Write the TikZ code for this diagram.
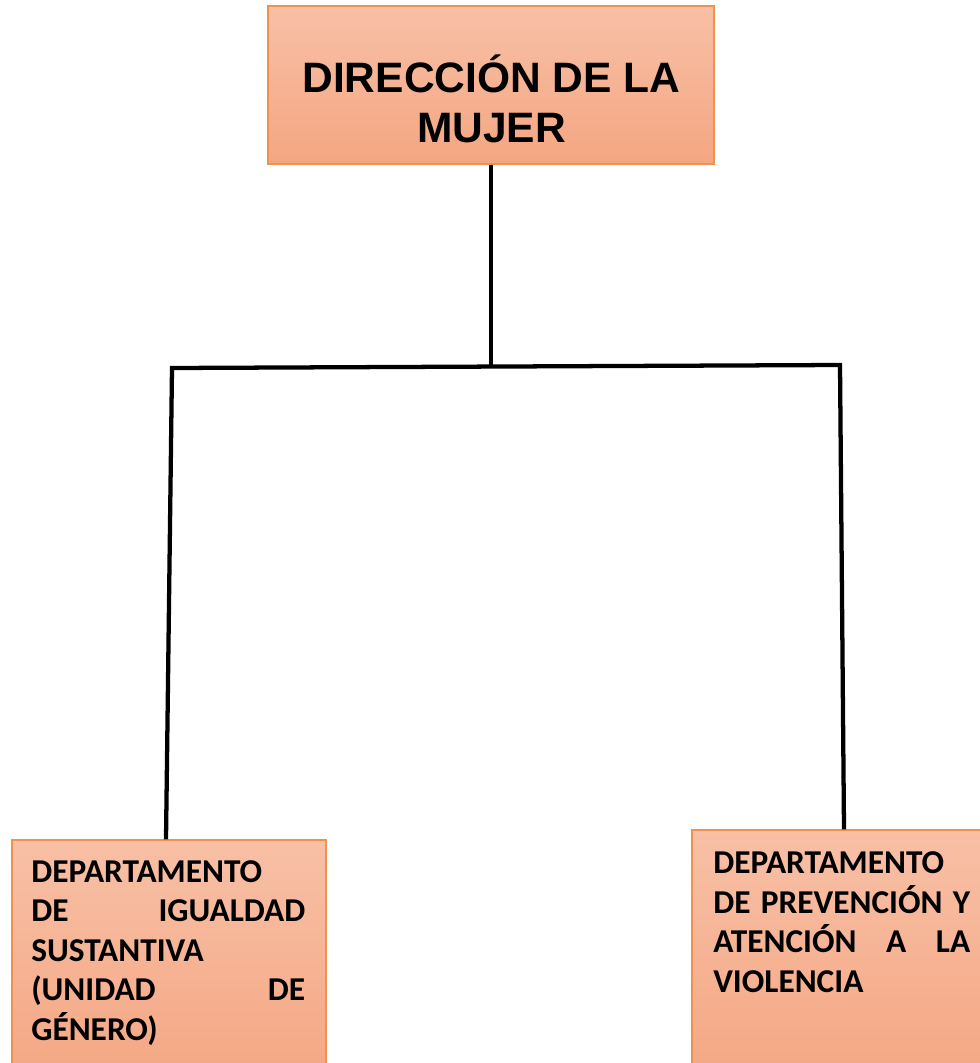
\documentclass[tikz,border=0pt]{standalone}
\usepackage{fontspec}
\setmainfont{Liberation Sans}
\newfontfamily\calibri{Carlito}
\usepackage{tikz}
\usetikzlibrary{positioning,fit,calc}
\usepackage{xcolor}
\definecolor{boxtop}{HTML}{F8C0A6}
\definecolor{boxbot}{HTML}{F4A682}
\definecolor{boxline}{HTML}{F0914F}
\tikzset{
    orgbox/.style={
        draw=boxline,
        line width=1.1pt,
        top color=boxtop,
        bottom color=boxbot,
        inner sep=0pt
    },
    headtxt/.style={
        align=center,
        inner sep=0pt,
        font=\bfseries\fontsize{31.9}{37.5}\selectfont
    },
    deptxt/.style={
        align=left,
        inner sep=0pt,
        font=\calibri\bfseries\fontsize{25}{29.6}\selectfont
    },
    link/.style={
        draw,
        line width=3.2pt,
        line join=miter
    }
}

\begin{document}
\begin{tikzpicture}[x=0.75pt, y=-0.75pt]
    \path[use as bounding box, clip] (0,0) rectangle (980,1063);

    % Boxes
    \node[orgbox, fit={(268,6) (714,164)}] (dir) {};
    \node[orgbox, fit={(12,840) (326,1090)}] (igual) {};
    \node[orgbox, fit={(692,830) (996,1090)}] (prev) {};

    % Texts
    \node[headtxt, anchor=south] (dirtxt) at (491.5,143) {DIRECCIÓN DE LA\\MUJER};
    \node[deptxt, text width=205.5pt, anchor=north west] (igualtxt) at (31,860) {%
        DEPARTAMENTO\\
        \makebox[\hsize]{DE\hfill IGUALDAD}\\
        SUSTANTIVA\\
        \makebox[\hsize]{(UNIDAD\hfill DE}\\
        GÉNERO)};
    \node[deptxt, text width=192.75pt, anchor=north west] (prevtxt) at (713,851.5) {%
        DEPARTAMENTO\\
        \makebox[\hsize]{DE\hfill PREVENCIÓN\hfill Y}\\
        \makebox[\hsize]{ATENCIÓN\hfill A\hfill LA}\\
        VIOLENCIA};

    % Edges
    \coordinate (jm) at (491,366.5);
    \coordinate (jl) at (172,368);
    \coordinate (jr) at (840,365);
    \draw[link] (dir.south) -- (jm);
    \draw[link] ($(igual.north)+(-3,0)$) -- (jl) -- (jr) -- (prev.north);
\end{tikzpicture}
\end{document}
